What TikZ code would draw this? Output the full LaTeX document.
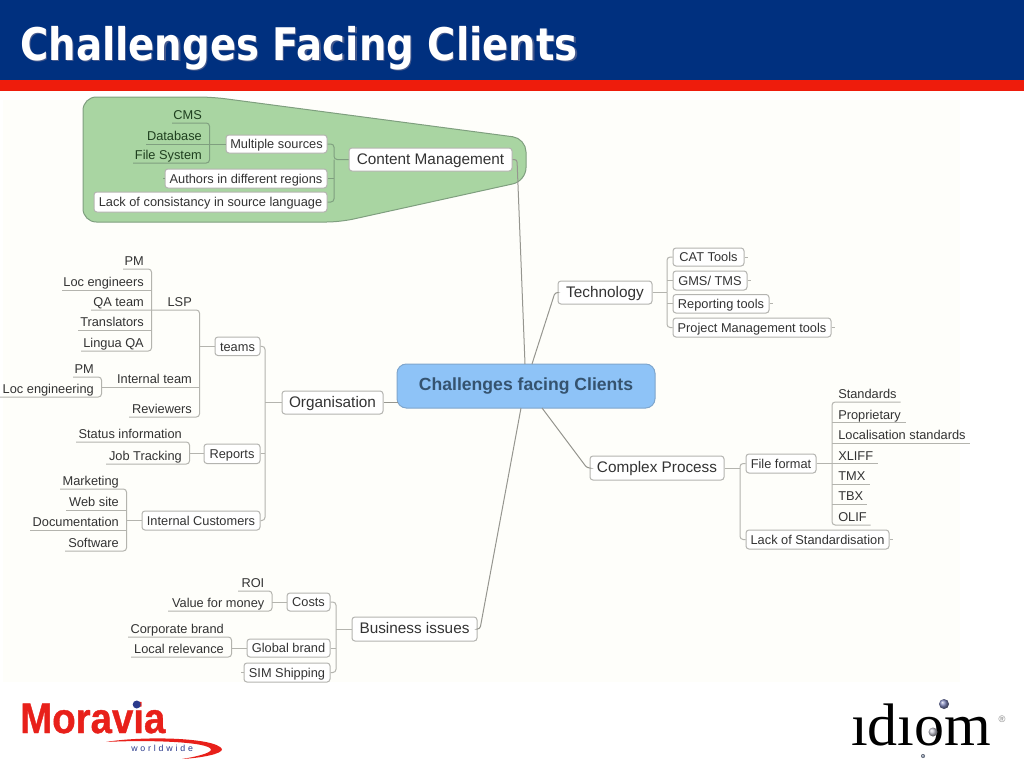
\documentclass[tikz,border=0pt]{standalone}
\usepackage{fontspec}
\setmainfont{Liberation Sans}
\newfontfamily\titlefont[FakeStretch=0.86]{DejaVu Sans}
\newfontfamily\logoserif{Liberation Serif}
\definecolor{hdrblue}{HTML}{00307F}
\definecolor{hdrred}{HTML}{EE1C0C}
\definecolor{titleshade}{HTML}{46598C}
\definecolor{panel}{HTML}{FEFEFA}
\definecolor{blob}{HTML}{A9D5A2}
\definecolor{blobline}{HTML}{7F9F7F}
\definecolor{mainfill}{HTML}{8EC3F7}
\definecolor{mainline}{HTML}{7FA6CC}
\definecolor{maintext}{HTML}{35536F}
\definecolor{linkgray}{HTML}{B4B4AE}
\definecolor{spokegray}{HTML}{96968F}
\definecolor{boxline}{HTML}{B4B4B0}
\definecolor{inktext}{HTML}{333333}
\definecolor{greenink}{HTML}{1F3F1F}
\definecolor{navy}{HTML}{2A3A8C}
\definecolor{morared}{HTML}{E8201A}
\definecolor{ballA}{HTML}{7F86BC}
\definecolor{ballB}{HTML}{C4C4D0}
\definecolor{ballC}{HTML}{8290AC}
\tikzset{
  txt/.style={font=\fontsize{9.6pt}{11pt}\selectfont,text=inktext,text height=0.8em,text depth=0.06em},
  box/.style={txt,draw=boxline,fill=white,line width=0.75pt,rounded corners=2.2pt,inner sep=0pt},
  bigbox/.style={box,font=\fontsize{11.5pt}{13pt}\selectfont},
  leaf/.style={txt,inner sep=0pt,minimum height=12pt},
  link/.style={draw=linkgray,line width=0.75pt,rounded corners=2.4pt},
  greenlink/.style={link,draw=blobline},
  spoke/.style={draw=spokegray,line width=0.75pt,rounded corners=2pt},
  titletext/.style={anchor=base west,inner sep=0pt,font=\titlefont\bfseries\fontsize{33.7pt}{36pt}\selectfont}
}
% [style], name, x1, y1, x2, y2, text
\newcommand{\bx}[7][box]{%
  \pgfmathsetlengthmacro\bw{(#5-#3)*0.75pt}%
  \pgfmathsetlengthmacro\bh{(#6-#4)*0.75pt}%
  \node[#1,minimum width=\bw,minimum height=\bh] (#2) at ({(#5+#3)/2},{(#6+#4)/2}) {#7};}
% leaf whose text sits at the right end: name, xleft, xright, yunderline, text
\newcommand{\lfR}[5]{%
  \pgfmathsetlengthmacro\bw{(#3-#2)*0.75pt}%
  \node[leaf,anchor=south west] (#1) at (#2,#4) {\makebox[\bw][r]{#5\hspace*{5.6pt}}};}
% leaf whose text sits at the left end
\newcommand{\lfL}[5]{%
  \pgfmathsetlengthmacro\bw{(#3-#2)*0.75pt}%
  \node[leaf,anchor=south west] (#1) at (#2,#4) {\makebox[\bw][l]{\hspace*{4.5pt}#5}};}
\begin{document}
\begin{tikzpicture}[x=0.75pt,y=-0.75pt]
\useasboundingbox (0,0) rectangle (1024,768);
\fill[white] (0,0) rectangle (1024,768);
\fill[hdrblue] (0,0) rectangle (1024,80);
\fill[hdrred] (0,80) rectangle (1024,91);
\fill[panel] (3,100) rectangle (960,682);
\node[titletext,text=titleshade] (titleshadow) at (21.2,61.2) {Challenges Facing Clients};
\node[titletext,text=white] (title) at (20,60) {Challenges Facing Clients};
% group blob
\draw[draw=blobline,fill=blob,line width=0.75pt,rounded corners=10pt]
  (83,97) -- (212,97) -- (526,138.5) -- (526,181) -- (340,222) -- (83,222) -- cycle;
% centre
\bx[box,draw=mainline,fill=mainfill,rounded corners=7pt,font=\bfseries\fontsize{13.2pt}{15pt}\selectfont,text=maintext]{main}{397}{364}{655}{408}{Challenges facing Clients}
% content management
\bx[bigbox]{cm}{349}{148}{512}{171}{Content Management}
\bx{ms}{226}{135}{327}{153}{Multiple sources}
\bx{auth}{165}{169}{327}{188}{Authors in different regions}
\bx{lack}{94}{192}{327}{212}{Lack of consistancy in source language}
\lfR{cms}{172}{209}{123}{\color{greenink}CMS}
\lfR{db}{146}{209}{144}{\color{greenink}Database}
\lfR{fs}{133}{209}{163}{\color{greenink}File System}
\coordinate (cmS) at (334,159.5);
\draw[greenlink] (cms.south west) -- (cms.south east) -- (fs.south east) -- (fs.south west);
\draw[greenlink] (db.south west) -- (ms.west);
\draw[greenlink] (ms.east) -| (cmS) -- (cm.west);
\draw[greenlink] (lack.east) -| (cmS);
\draw[greenlink] (auth.east) -- (auth.east -| cmS);
\draw[greenlink] (auth.west) -- ++(-2,0);
% organisation
\bx[bigbox]{org}{282}{391}{383}{414}{Organisation}
\bx{teams}{215}{337}{260}{355.5}{teams}
\bx{reports}{204}{444}{260}{463.5}{Reports}
\bx{ic}{142}{511}{260}{530}{Internal Customers}
\lfR{pmA}{123}{151}{269}{PM}
\lfR{loc}{62}{151}{290}{Loc engineers}
\lfR{qa}{91}{151}{310}{QA team}
\lfR{tr}{78}{151}{330}{Translators}
\lfR{lq}{81}{151}{351}{Lingua QA}
\lfR{lsp}{151}{199}{310}{LSP}
\lfR{pmB}{73}{101}{377}{PM}
\lfR{lce}{0}{101}{397}{Loc engineering}
\lfR{itm}{101}{199}{387}{Internal team}
\lfR{rev}{129}{199}{417}{Reviewers}
\lfR{si}{76}{189}{442}{Status information}
\lfR{jt}{106}{189}{464}{Job Tracking}
\lfR{mk}{60}{126}{489}{Marketing}
\lfR{ws}{66}{126}{510}{Web site}
\lfR{doc}{30}{126}{530}{Documentation}
\lfR{sw}{65}{126}{551}{Software}
\coordinate (orgS) at (265,402.5);
\coordinate (orgM) at (398,402.5);
\draw[spoke] (org.east) -- (orgM);
\draw[link] (org.west) -- (orgS);
\draw[link] (teams.east) -| (orgS);
\draw[link] (ic.east) -| (orgS);
\draw[link] (reports.east) -- (reports.east -| orgS);
\draw[link] (pmA.south west) -- (pmA.south east) -- (lq.south east) -- (lq.south west);
\draw[link] (loc.south west) -- (loc.south east);
\draw[link] (tr.south west) -- (tr.south east);
\draw[link] (qa.south west) -- (lsp.south west) -- (lsp.south east) -- (rev.south east) -- (rev.south west);
\draw[link] (teams.west) -- (teams.west -| lsp.south east);
\draw[link] (pmB.south west) -- (pmB.south east) -- (lce.south east) -- (lce.south west);
\draw[link] (itm.south west) -- (itm.south east);
\draw[link] (si.south west) -- (si.south east) -- (jt.south east) -- (jt.south west);
\draw[link] (reports.west) -- (reports.west -| jt.south east);
\draw[link] (mk.south west) -- (mk.south east) -- (sw.south east) -- (sw.south west);
\draw[link] (ws.south west) -- (ws.south east);
\draw[link] (doc.south west) -- (doc.south east);
\draw[link] (ic.west) -- (ic.west -| sw.south east);
% business
\bx[bigbox]{bi}{352}{617}{477}{641}{Business issues}
\bx{costs}{287}{593}{330}{611}{Costs}
\bx{gb}{247}{639}{330}{657}{Global brand}
\bx{sim}{244}{663}{330}{682}{SIM Shipping}
\lfR{roi}{238}{271.5}{591}{ROI}
\lfR{vfm}{168}{271.5}{611}{Value for money}
\lfR{cb}{128}{231}{637}{Corporate brand}
\lfR{lr}{131}{231}{657}{Local relevance}
\coordinate (biS) at (336,629);
\draw[link] (bi.west) -- (biS);
\draw[link] (costs.east) -| (biS);
\draw[link] (sim.east) -| (biS);
\draw[link] (gb.east) -- (gb.east -| biS);
\draw[link] (sim.west) -- ++(-3,0);
\draw[link] (roi.south west) -- (roi.south east) -- (vfm.south east) -- (vfm.south west);
\draw[link] (costs.west) -- (costs.west -| vfm.south east);
\draw[link] (cb.south west) -- (cb.south east) -- (lr.south east) -- (lr.south west);
\draw[link] (gb.west) -- (gb.west -| lr.south east);
% technology
\bx[bigbox]{tech}{558}{281}{652}{304}{Technology}
\bx{cat}{673}{248}{744}{266}{CAT Tools}
\bx{gms}{673}{271}{747}{290}{GMS/ TMS}
\bx{rep}{673}{294.5}{769}{313}{Reporting tools}
\bx{pmt}{673}{318}{831}{337}{Project Management tools}
\coordinate (tS) at (667,292.5);
\draw[link] (tech.east) -- (tS);
\draw[link] (cat.west) -| (tS);
\draw[link] (pmt.west) -| (tS);
\draw[link] (gms.west) -- (gms.west -| tS);
\draw[link] (rep.west) -- (rep.west -| tS);
\draw[link] (cat.east) -- ++(3,0);
\draw[link] (gms.east) -- ++(3,0);
\draw[link] (rep.east) -- ++(3,0);
\draw[link] (pmt.east) -- ++(3,0);
% complex process
\bx[bigbox]{cp}{590}{456}{724}{480}{Complex Process}
\bx{ff}{746}{454}{816}{473}{File format}
\bx{los}{746}{530}{889}{549}{Lack of Standardisation}
\lfL{std}{832}{900}{402}{Standards}
\lfL{prop}{832}{905}{422.5}{Proprietary}
\lfL{ls}{832}{969}{443}{Localisation standards}
\lfL{xl}{832}{877}{463.5}{XLIFF}
\lfL{tmx}{832}{869}{484}{TMX}
\lfL{tbx}{832}{866}{504}{TBX}
\lfL{olif}{832}{870}{525}{OLIF}
\coordinate (cS) at (740,468);
\draw[link] (cp.east) -- (cS);
\draw[link] (ff.west) -| (cS);
\draw[link] (los.west) -| (cS);
\draw[link] (los.east) -- ++(3,0);
\draw[link] (ff.east) -- (xl.south west);
\draw[link] (std.south east) -- (std.south west) -- (olif.south west) -- (olif.south east);
\draw[link] (prop.south west) -- (prop.south east);
\draw[link] (ls.south west) -- (ls.south east);
\draw[link] (xl.south west) -- (xl.south east);
\draw[link] (tmx.south west) -- (tmx.south east);
\draw[link] (tbx.south west) -- (tbx.south east);
% spokes to centre
\coordinate (mCM) at (525,364);
\coordinate (mT) at (532,364);
\coordinate (mC) at (542,408);
\coordinate (mB) at (521,408);
\draw[spoke] (cm.east) -- (517,159.5) -- (mCM);
\draw[spoke] (tech.west) -- (555,292.5) -- (mT);
\draw[spoke] (cp.west) -- (587,468) -- (mC);
\draw[spoke] (bi.east) -- (480,629) -- (mB);
% Moravia logo
\node[anchor=base west,inner sep=0pt,text=morared,font=\bfseries\fontsize{32pt}{34pt}\selectfont\addfontfeatures{FakeBold=1},xscale=0.9,transform shape] (moravia) at (20,733) {Moravia};
\fill[navy] (136.7,704.5) circle (4);
\fill[morared] (106,742) .. controls (140,736) and (215,737) .. (222,749) .. controls (223,754) and (200,758) .. (182,759) .. controls (200,756) and (215,752) .. (210,748) .. controls (200,741) and (140,740) .. (106,742) -- cycle;
\node[anchor=base west,inner sep=0pt,text=navy,font=\fontsize{6.6pt}{7pt}\selectfont\addfontfeatures{LetterSpace=32}] (ww) at (131,751) {worldwide};
% idiom logo
\node[anchor=base west,inner sep=0pt,text=black,font=\logoserif\fontsize{45pt}{48pt}\selectfont] (idiom) at (851,745) {ıdıom};
\node[anchor=center,inner sep=0pt,text=gray,font=\fontsize{7pt}{8pt}\selectfont] (reg) at (1002,719) {®};
\shade[ball color=ballA] (944,704) circle (5);
\shade[ball color=ballB] (933,732) circle (4.5);
\shade[ball color=ballC] (923,756) circle (2);
\end{tikzpicture}
\end{document}
